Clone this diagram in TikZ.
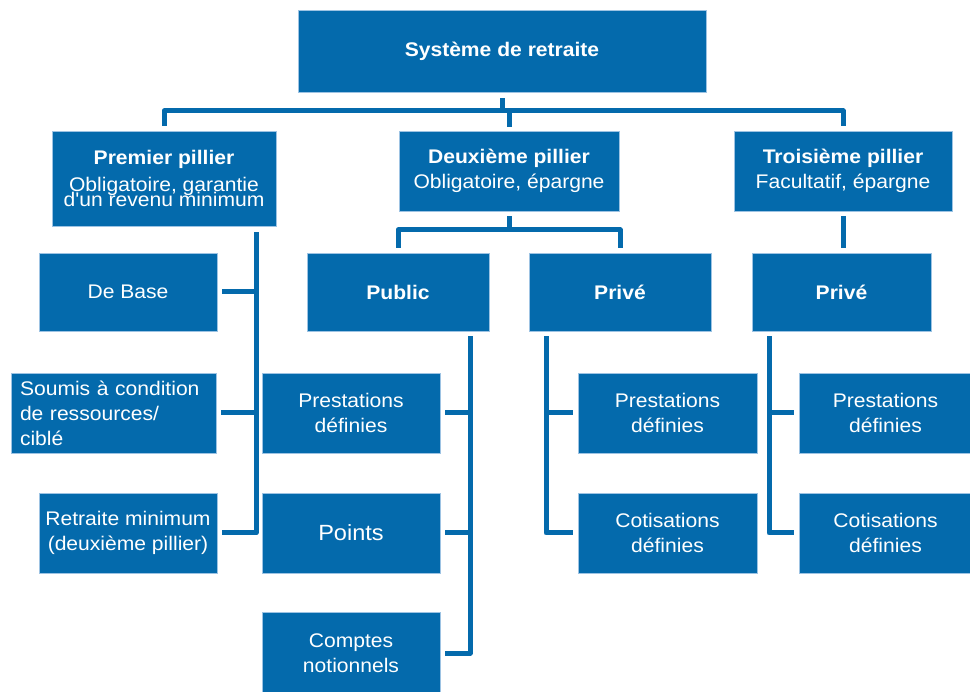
\documentclass[tikz,border=0pt]{standalone}
\usepackage{fontspec}
\setmainfont{Liberation Sans}[FakeStretch=1.07]
\newfontfamily\plainap{Liberation Sans}[FakeStretch=1.07]
\definecolor{boxblue}{HTML}{046AAC}
\definecolor{edgeblue}{HTML}{9DC3E3}
\tikzset{
  box/.style={fill=boxblue, draw=edgeblue, line width=0.7pt, text=white,
    inner sep=0pt, align=center, font=\fontsize{19.7}{25}\selectfont},
  conn/.style={draw=boxblue, line width=5pt, line join=round},
}
\begin{document}
\begin{tikzpicture}[x=1pt,y=-1pt]
\useasboundingbox (0,0) rectangle (970,692);

% nodes
\node[box,minimum width=408pt,minimum height=82pt] (top) at (502,51) {\textbf{Système de retraite}};
\node[box,minimum width=224pt,minimum height=95pt] (p1) at (164,178.5)
  {\textbf{Premier pillier}\\[2pt]Obligatoire, garantie\\[-10pt]d{\plainap'}un revenu minimum};
\node[box,minimum width=220pt,minimum height=80pt] (p2) at (509,171) {\textbf{Deuxième pillier}\\Obligatoire, épargne};
\node[box,minimum width=218pt,minimum height=80pt] (p3) at (843,171) {\textbf{Troisième pillier}\\Facultatif, épargne};

\node[box,minimum width=178pt,minimum height=78pt] (base) at (128,292) {De Base};
\node[box,minimum width=205pt,minimum height=80pt,text width=187pt,align=left,inner xsep=9pt] (soumis) at (113.5,413)
  {Soumis à condition\\de ressources/\\ciblé};
\node[box,minimum width=178pt,minimum height=80pt] (retmin) at (128,533) {Retraite minimum\\(deuxième pillier)};

\node[box,minimum width=182pt,minimum height=78pt] (public) at (398,292) {\textbf{Public}};
\node[box,minimum width=182pt,minimum height=78pt] (prive2) at (620,292) {\textbf{Privé}};
\node[box,minimum width=179pt,minimum height=78pt] (prive3) at (841.5,292) {\textbf{Privé}};

\node[box,minimum width=178pt,minimum height=80pt] (pd1) at (351,413) {Prestations\\définies};
\node[box,minimum width=178pt,minimum height=80pt,font=\fontsize{22}{26}\selectfont] (points) at (351,533) {Points};
\node[box,minimum width=178pt,minimum height=82pt] (comptes) at (351,653) {Comptes\\notionnels};

\node[box,minimum width=179pt,minimum height=80pt] (pd2) at (667.5,413) {Prestations\\définies};
\node[box,minimum width=179pt,minimum height=80pt] (cd2) at (667.5,533) {Cotisations\\définies};

\node[box,minimum width=173pt,minimum height=80pt] (pd3) at (885.5,413) {Prestations\\définies};
\node[box,minimum width=173pt,minimum height=80pt] (cd3) at (885.5,533) {Cotisations\\définies};

% bus coordinates
\coordinate (bus1) at (0,111);
\coordinate (bus2) at (0,230);
\coordinate (v1) at (256,0);
\coordinate (v2) at (470,0);
\coordinate (v3) at (546,0);
\coordinate (v4) at (769,0);

% top level
\draw[conn] ([yshift=-6pt]top.south) -- (top.south |- bus1);
\draw[conn] ([yshift=5pt]p1.north) -- (p1.north |- bus1) -- (p3.north |- bus1) -- ([yshift=5pt]p3.north);
\draw[conn] (p2.north |- bus1) -- ([yshift=4pt]p2.north);

% premier pillier
\draw[conn] ([yshift=-6pt]p1.south -| v1) -- (v1 |- retmin.east) -- ([xshift=5pt]retmin.east);
\draw[conn] ([xshift=5pt]base.east) -- (base.east -| v1);
\draw[conn] ([xshift=5pt]soumis.east) -- (soumis.east -| v1);

% deuxieme pillier
\draw[conn] ([yshift=-5pt]p2.south) -- (p2.south |- bus2);
\draw[conn] ([yshift=5pt]public.north) -- (public.north |- bus2) -- (prive2.north |- bus2) -- ([yshift=5pt]prive2.north);

% troisieme pillier
\draw[conn] ([yshift=-5pt]p3.south) -- ([yshift=5pt]p3.south |- prive3.north);

% public children
\draw[conn] ([yshift=-5pt]public.south -| v2) -- (v2 |- comptes.east) -- ([xshift=5pt]comptes.east);
\draw[conn] ([xshift=5pt]pd1.east) -- (pd1.east -| v2);
\draw[conn] ([xshift=5pt]points.east) -- (points.east -| v2);

% prive 2 children
\draw[conn] ([yshift=-5pt]prive2.south -| v3) -- (v3 |- cd2.west) -- ([xshift=-5pt]cd2.west);
\draw[conn] ([xshift=-5pt]pd2.west) -- (pd2.west -| v3);

% prive 3 children
\draw[conn] ([yshift=-5pt]prive3.south -| v4) -- (v4 |- cd3.west) -- ([xshift=-5pt]cd3.west);
\draw[conn] ([xshift=-5pt]pd3.west) -- (pd3.west -| v4);
\end{tikzpicture}
\end{document}
